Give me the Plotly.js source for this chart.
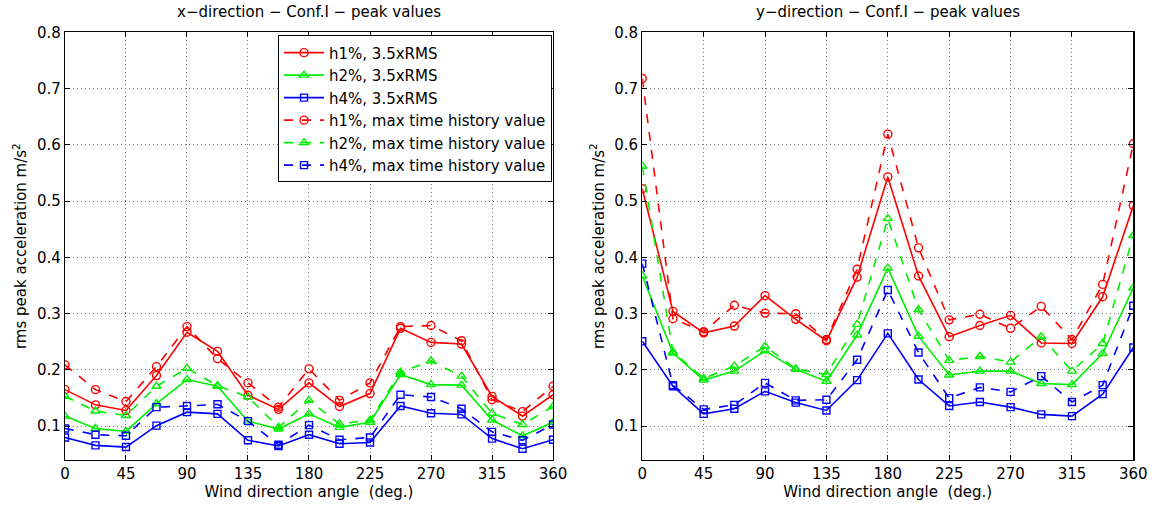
<!DOCTYPE html>
<html>
<head>
<meta charset="utf-8">
<script src="https://cdn.plot.ly/plotly-3.0.1.min.js"></script>
<style>html,body{margin:0;padding:0;background:#fff;}#chart{width:1156px;height:506px;}</style>
</head>
<body>
<div id="chart"></div>
<script>
// Wind direction angles (deg.)
const angles = [0, 22.5, 45, 67.5, 90, 112.5, 135, 157.5, 180, 202.5, 225, 247.5, 270, 292.5, 315, 337.5, 360];

// x-direction, Conf.I
const xH1Rms = [0.165, 0.138, 0.128, 0.190, 0.267, 0.233, 0.155, 0.130, 0.177, 0.135, 0.158, 0.274, 0.249, 0.246, 0.153, 0.118, 0.156];
const xH2Rms = [0.118, 0.096, 0.091, 0.140, 0.183, 0.171, 0.109, 0.095, 0.122, 0.098, 0.107, 0.192, 0.174, 0.173, 0.111, 0.083, 0.107];
const xH4Rms = [0.080, 0.066, 0.063, 0.101, 0.125, 0.122, 0.075, 0.065, 0.085, 0.069, 0.071, 0.136, 0.123, 0.121, 0.078, 0.060, 0.076];
const xH1Max = [0.209, 0.165, 0.144, 0.206, 0.277, 0.220, 0.177, 0.134, 0.202, 0.146, 0.177, 0.277, 0.279, 0.252, 0.147, 0.126, 0.171];
const xH2Max = [0.153, 0.127, 0.119, 0.171, 0.203, 0.172, 0.152, 0.098, 0.146, 0.104, 0.111, 0.196, 0.216, 0.189, 0.123, 0.103, 0.135];
const xH4Max = [0.096, 0.085, 0.083, 0.134, 0.136, 0.139, 0.109, 0.067, 0.102, 0.076, 0.080, 0.156, 0.152, 0.131, 0.090, 0.075, 0.103];

// y-direction, Conf.I
const yH1Rms = [0.522, 0.304, 0.266, 0.278, 0.332, 0.290, 0.252, 0.365, 0.543, 0.367, 0.259, 0.279, 0.297, 0.248, 0.247, 0.330, 0.492];
const yH2Rms = [0.367, 0.230, 0.182, 0.198, 0.234, 0.201, 0.180, 0.262, 0.381, 0.260, 0.191, 0.198, 0.198, 0.176, 0.174, 0.229, 0.346];
const yH4Rms = [0.251, 0.171, 0.122, 0.131, 0.162, 0.142, 0.128, 0.182, 0.265, 0.183, 0.136, 0.143, 0.134, 0.121, 0.118, 0.157, 0.240];
const yH1Max = [0.718, 0.291, 0.268, 0.315, 0.301, 0.300, 0.254, 0.379, 0.619, 0.417, 0.289, 0.299, 0.274, 0.313, 0.254, 0.352, 0.602];
const yH2Max = [0.562, 0.232, 0.185, 0.207, 0.242, 0.202, 0.192, 0.281, 0.469, 0.307, 0.217, 0.224, 0.214, 0.259, 0.198, 0.247, 0.439];
const yH4Max = [0.389, 0.173, 0.130, 0.138, 0.177, 0.146, 0.147, 0.218, 0.342, 0.231, 0.150, 0.169, 0.161, 0.189, 0.143, 0.173, 0.314];

const seriesNames = ['h1%, 3.5xRMS', 'h2%, 3.5xRMS', 'h4%, 3.5xRMS',
  'h1%, max time history value', 'h2%, max time history value', 'h4%, max time history value'];
const xTickVals = [0, 45, 90, 135, 180, 225, 270, 315, 360];
const yTickVals = [0.1, 0.2, 0.3, 0.4, 0.5, 0.6, 0.7, 0.8];

const colors = ['#ff0000', '#00ee00', '#0000ff'];
const symbols = ['circle-open', 'triangle-up-open', 'square-open'];
const sizes = [8, 8, 7];

function mk(y, i, dashed, axis) {
  const k = i % 3;
  return {
    x: angles, y: y, type: 'scatter', mode: 'lines+markers',
    name: seriesNames[i], legendgroup: 'g' + i,
    showlegend: axis === 1,
    xaxis: axis === 1 ? 'x' : 'x2', yaxis: axis === 1 ? 'y' : 'y2',
    line: {color: colors[k], width: 1.6, dash: dashed ? 'dash' : 'solid'},
    marker: {symbol: symbols[k], size: sizes[k], color: colors[k], line: {width: 1.4, color: colors[k]}}
  };
}

const left = [xH1Rms, xH2Rms, xH4Rms, xH1Max, xH2Max, xH4Max];
const right = [yH1Rms, yH2Rms, yH4Rms, yH1Max, yH2Max, yH4Max];
const data = [];
left.forEach((y, i) => data.push(mk(y, i, i >= 3, 1)));
right.forEach((y, i) => data.push(mk(y, i, i >= 3, 2)));

const font = 'DejaVu Sans, Liberation Sans, Arial, sans-serif';
function xax(domain, anchor) {
  return {
    domain: domain, anchor: anchor, range: [0, 360],
    tickvals: xTickVals, ticktext: xTickVals.map(String),
    showline: true, linecolor: '#000', linewidth: 1.2, mirror: 'allticks',
    ticks: 'inside', ticklen: 5, tickcolor: '#000',
    showgrid: true, gridcolor: '#777', griddash: '1px,3px', gridwidth: 1,
    zeroline: false,
    tickfont: {family: font, size: 15, color: '#000'},
    title: {text: 'Wind direction angle  (deg.)', font: {family: font, size: 15, color: '#000'}, standoff: 1}
  };
}
function yax(anchor) {
  return {
    domain: [0.0909, 0.9362], anchor: anchor, range: [0.04, 0.8],
    tickvals: yTickVals, ticktext: yTickVals.map(v => v.toFixed(1)),
    showline: true, linecolor: '#000', linewidth: 1.2, mirror: 'allticks',
    ticks: 'inside', ticklen: 5, tickcolor: '#000',
    showgrid: true, gridcolor: '#777', griddash: '1px,3px', gridwidth: 1,
    zeroline: false,
    tickfont: {family: font, size: 15, color: '#000'},
    title: {text: 'rms peak acceleration m/s<sup>2</sup>', font: {family: font, size: 15, color: '#000'}, standoff: 6}
  };
}

const layout = {
  width: 1156, height: 506,
  margin: {l: 0, r: 0, t: 0, b: 0},
  paper_bgcolor: '#fff', plot_bgcolor: '#fff',
  font: {family: font, color: '#000'},
  showlegend: true,
  xaxis: xax([0.0562, 0.4784], 'y'),
  yaxis: yax('x'),
  xaxis2: xax([0.5556, 0.9804], 'y2'),
  yaxis2: yax('x2'),
  legend: {
    x: 0.2405, y: 0.93, xanchor: 'left', yanchor: 'top',
    bgcolor: '#fff', bordercolor: '#000', borderwidth: 1,
    font: {family: font, size: 15, color: '#000'},
    itemwidth: 40, tracegroupgap: 0
  },
  annotations: [
    {text: 'x\u2212direction \u2212 Conf.I \u2212 peak values', xref: 'paper', yref: 'paper',
     x: (0.0562 + 0.4784) / 2, y: 1 - 12 / 506, xanchor: 'center', yanchor: 'middle', showarrow: false,
     font: {family: font, size: 15, color: '#000'}},
    {text: 'y\u2212direction \u2212 Conf.I \u2212 peak values', xref: 'paper', yref: 'paper',
     x: (0.5556 + 0.9804) / 2, y: 1 - 12 / 506, xanchor: 'center', yanchor: 'middle', showarrow: false,
     font: {family: font, size: 15, color: '#000'}}
  ]
};

Plotly.newPlot('chart', data, layout, {displayModeBar: false, staticPlot: true});
</script>
</body>
</html>
